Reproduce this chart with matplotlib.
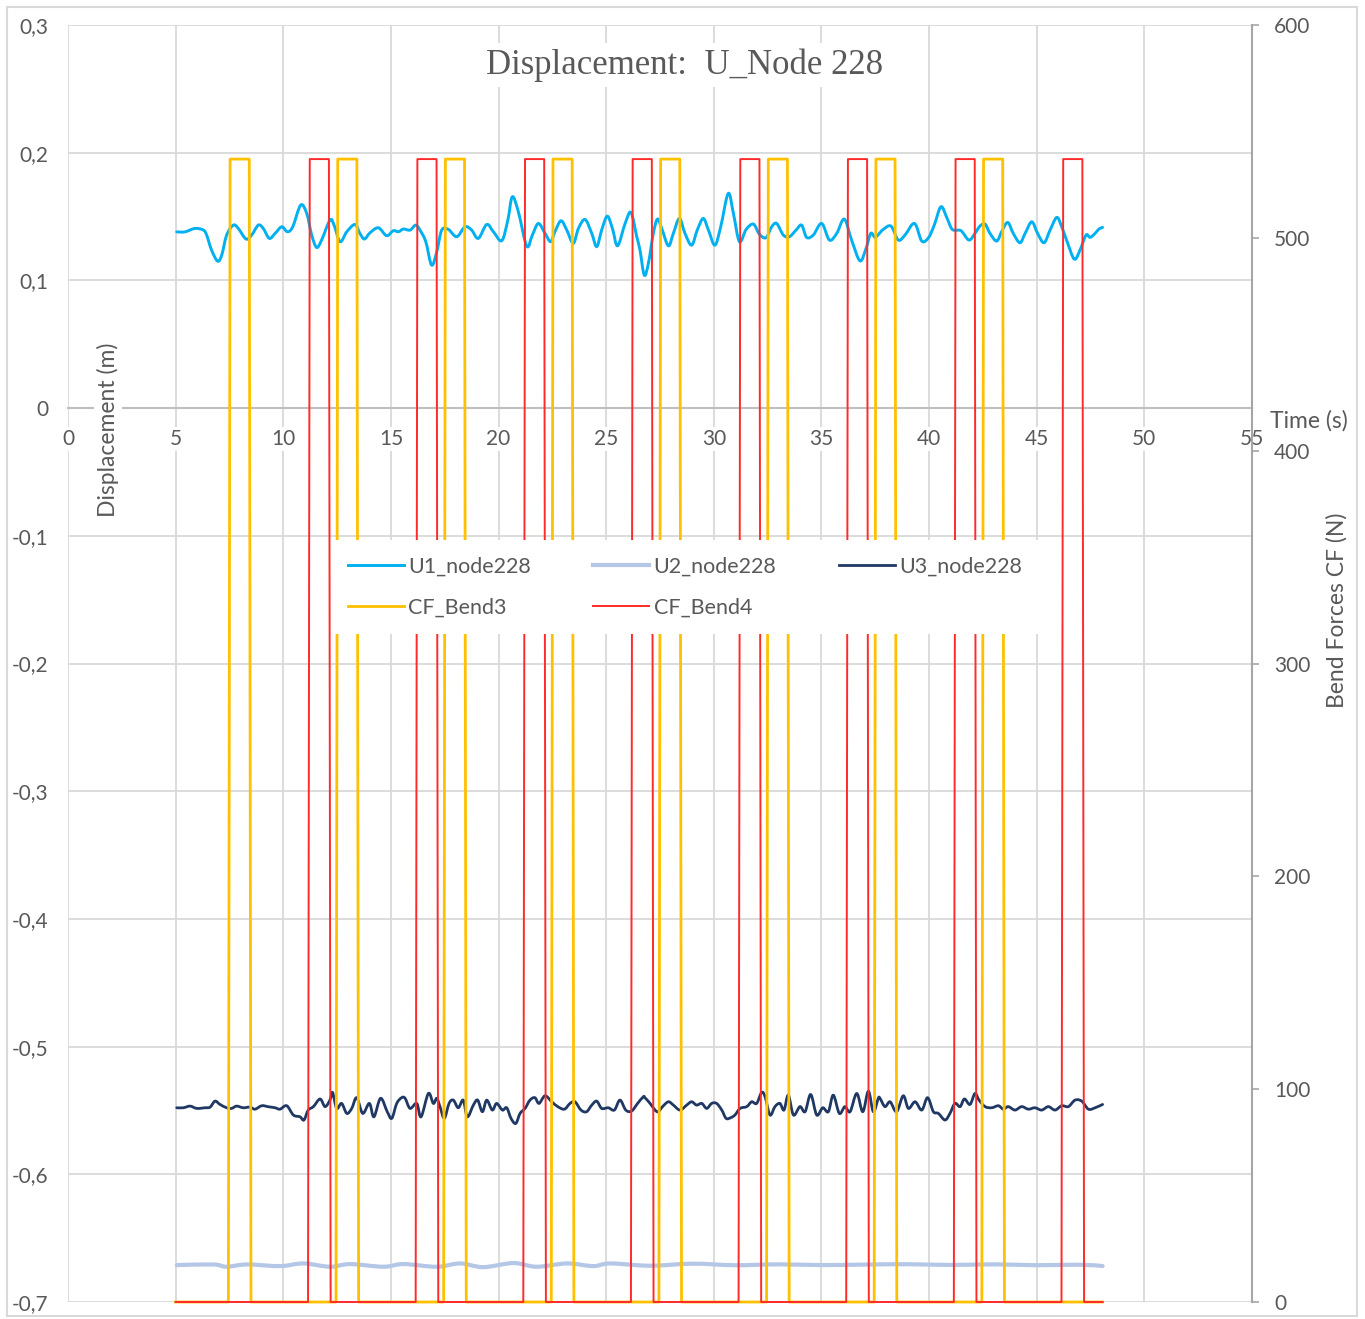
import matplotlib
matplotlib.use("Agg")
import matplotlib.pyplot as plt
from matplotlib.patches import Rectangle, PathPatch
from matplotlib.path import Path
from matplotlib.lines import Line2D
from matplotlib.ticker import FuncFormatter, MultipleLocator

# ---------------- data ----------------
u1_time = [5.05, 5.43, 5.90, 6.29, 6.44, 6.67, 6.95, 7.14, 7.37, 7.68, 7.91, 8.27, 8.53, 8.84,
           9.07, 9.35, 9.62, 9.93, 10.19, 10.44, 10.81, 11.09, 11.32, 11.55, 11.78, 12.17,
           12.36, 12.64, 12.95, 13.33, 13.56, 13.77, 14.03, 14.42, 14.80, 15.11, 15.35, 15.58,
           15.89, 16.15, 16.35, 16.62, 16.89, 17.13, 17.36, 17.67, 18.06, 18.44, 18.75, 19.06,
           19.45, 19.76, 20.15, 20.43, 20.64, 20.92, 21.31, 21.57, 21.85, 22.16, 22.42, 22.62,
           22.90, 23.17, 23.47, 23.71, 24.02, 24.33, 24.56, 24.79, 25.05, 25.29, 25.53, 25.88,
           26.15, 26.42, 26.57, 26.77, 26.96, 27.19, 27.38, 27.58, 27.89, 28.12, 28.40, 28.66,
           28.97, 29.23, 29.51, 29.75, 30.05, 30.32, 30.67, 30.91, 31.19, 31.50, 31.84, 32.11,
           32.42, 32.69, 32.92, 33.23, 33.51, 33.82, 34.08, 34.31, 34.62, 35.01, 35.37, 35.71,
           36.06, 36.40, 36.79, 37.07, 37.29, 37.49, 37.69, 37.87, 38.23, 38.57, 38.88, 39.32,
           39.66, 39.97, 40.24, 40.55, 40.82, 41.08, 41.48, 41.85, 42.13, 42.36, 42.60, 42.83,
           43.14, 43.37, 43.65, 43.91, 44.22, 44.46, 44.77, 45.04, 45.34, 45.62, 45.93, 46.16,
           46.44, 46.75, 47.01, 47.29, 47.48, 47.71, 47.89, 48.06]
u1_disp = [0.1380, 0.1380, 0.1407, 0.1394, 0.1355, 0.1237, 0.1151, 0.1198, 0.1355, 0.1433,
           0.1407, 0.1324, 0.1355, 0.1433, 0.1407, 0.1329, 0.1368, 0.1420, 0.1381, 0.1420,
           0.1590, 0.1524, 0.1355, 0.1258, 0.1316, 0.1472, 0.1433, 0.1303, 0.1381, 0.1438,
           0.1368, 0.1324, 0.1373, 0.1412, 0.1350, 0.1389, 0.1381, 0.1402, 0.1394, 0.1433,
           0.1394, 0.1303, 0.1120, 0.1224, 0.1394, 0.1399, 0.1342, 0.1420, 0.1394, 0.1329,
           0.1438, 0.1381, 0.1311, 0.1472, 0.1655, 0.1537, 0.1268, 0.1355, 0.1446, 0.1368,
           0.1303, 0.1381, 0.1467, 0.1394, 0.1290, 0.1407, 0.1477, 0.1368, 0.1264, 0.1394,
           0.1503, 0.1407, 0.1271, 0.1446, 0.1532, 0.1342, 0.1237, 0.1041, 0.1133, 0.1368,
           0.1480, 0.1407, 0.1271, 0.1368, 0.1485, 0.1368, 0.1276, 0.1394, 0.1485, 0.1394,
           0.1276, 0.1420, 0.1681, 0.1524, 0.1303, 0.1399, 0.1441, 0.1363, 0.1334, 0.1420,
           0.1446, 0.1355, 0.1342, 0.1394, 0.1433, 0.1337, 0.1355, 0.1446, 0.1316, 0.1368,
           0.1480, 0.1316, 0.1153, 0.1250, 0.1368, 0.1337, 0.1368, 0.1399, 0.1425, 0.1316,
           0.1355, 0.1446, 0.1308, 0.1334, 0.1433, 0.1577, 0.1493, 0.1399, 0.1389, 0.1316,
           0.1368, 0.1425, 0.1441, 0.1368, 0.1308, 0.1381, 0.1454, 0.1368, 0.1295, 0.1368,
           0.1459, 0.1368, 0.1295, 0.1394, 0.1493, 0.1420, 0.1290, 0.1166, 0.1237, 0.1355,
           0.1337, 0.1368, 0.1402, 0.1415]

u2_time = [5.05, 6.75, 7.37, 8.30, 9.85, 10.93, 12.17, 13.10, 14.65, 15.58, 17.13, 18.21,
           19.29, 20.69, 21.77, 23.17, 24.40, 25.18, 27.03, 29.0, 31.0, 33.0, 35.0, 37.0,
           39.0, 41.0, 43.0, 45.0, 47.0, 48.06]
u2_disp = [-0.6711, -0.6706, -0.6724, -0.6706, -0.6719, -0.6698, -0.6724, -0.6703, -0.6724,
           -0.6703, -0.6724, -0.6698, -0.6727, -0.6695, -0.6724, -0.6698, -0.6719, -0.6698,
           -0.6716, -0.6700, -0.6712, -0.6705, -0.6711, -0.6707, -0.6704, -0.6710, -0.6705,
           -0.6712, -0.6708, -0.6718]

u3_time = [5.05, 5.36, 5.67, 5.98, 6.36, 6.60, 6.83, 7.06, 7.37, 7.60, 7.83, 8.14, 8.45, 8.69,
           9.00, 9.31, 9.62, 9.85, 10.16, 10.47, 10.78, 10.96, 11.16, 11.40, 11.71, 11.94,
           12.17, 12.29, 12.48, 12.71, 12.95, 13.18, 13.41, 13.69, 14.00, 14.21, 14.52, 14.83,
           15.04, 15.27, 15.50, 15.66, 15.89, 16.20, 16.40, 16.74, 16.97, 17.13, 17.28, 17.48,
           17.70, 17.90, 18.13, 18.36, 18.55, 18.83, 19.03, 19.25, 19.45, 19.71, 19.91, 20.18,
           20.38, 20.58, 20.80, 21.00, 21.23, 21.46, 21.69, 21.88, 22.16, 22.47, 22.75, 23.06,
           23.32, 23.55, 23.83, 24.09, 24.33, 24.56, 24.79, 25.10, 25.38, 25.64, 25.91, 26.18,
           26.46, 26.73, 26.80, 27.04, 27.27, 27.42, 27.62, 27.89, 28.12, 28.43, 28.74, 28.97,
           29.20, 29.44, 29.67, 29.90, 30.13, 30.37, 30.57, 30.78, 30.98, 31.22, 31.53, 31.76,
           31.99, 32.22, 32.38, 32.61, 32.84, 33.07, 33.26, 33.46, 33.70, 34.00, 34.24, 34.50,
           34.78, 35.06, 35.32, 35.55, 35.83, 36.09, 36.33, 36.64, 36.92, 37.18, 37.41, 37.64,
           37.72, 37.95, 38.19, 38.49, 38.80, 39.04, 39.35, 39.66, 39.93, 40.20, 40.43, 40.74,
           40.97, 41.20, 41.44, 41.64, 41.90, 42.13, 42.32, 42.60, 42.91, 43.22, 43.45, 43.68,
           43.99, 44.30, 44.61, 44.92, 45.23, 45.54, 45.85, 46.16, 46.47, 46.78, 47.09, 47.40,
           47.71, 48.06]
u3_disp = [-0.5479, -0.5479, -0.5466, -0.5484, -0.5479, -0.5474, -0.5427, -0.5453, -0.5479,
           -0.5484, -0.5466, -0.5479, -0.5474, -0.5490, -0.5463, -0.5471, -0.5479, -0.5490,
           -0.5463, -0.5536, -0.5550, -0.5575, -0.5497, -0.5470, -0.5410, -0.5470, -0.5418,
           -0.5359, -0.5484, -0.5445, -0.5523, -0.5484, -0.5400, -0.5523, -0.5445, -0.5550,
           -0.5405, -0.5510, -0.5562, -0.5445, -0.5400, -0.5405, -0.5484, -0.5445, -0.5550,
           -0.5367, -0.5445, -0.5405, -0.5470, -0.5562, -0.5445, -0.5419, -0.5479, -0.5419,
           -0.5550, -0.5458, -0.5419, -0.5510, -0.5419, -0.5497, -0.5445, -0.5497, -0.5479,
           -0.5562, -0.5602, -0.5523, -0.5484, -0.5419, -0.5400, -0.5445, -0.5385, -0.5432,
           -0.5470, -0.5490, -0.5445, -0.5432, -0.5497, -0.5510, -0.5458, -0.5427, -0.5484,
           -0.5479, -0.5497, -0.5419, -0.5497, -0.5505, -0.5445, -0.5392, -0.5400, -0.5445,
           -0.5497, -0.5510, -0.5470, -0.5432, -0.5458, -0.5497, -0.5458, -0.5432, -0.5458,
           -0.5445, -0.5484, -0.5445, -0.5445, -0.5497, -0.5562, -0.5557, -0.5536, -0.5484,
           -0.5470, -0.5432, -0.5445, -0.5359, -0.5392, -0.5536, -0.5470, -0.5445, -0.5497,
           -0.5380, -0.5536, -0.5470, -0.5510, -0.5375, -0.5536, -0.5479, -0.5510, -0.5380,
           -0.5523, -0.5470, -0.5510, -0.5367, -0.5510, -0.5349, -0.5510, -0.5405, -0.5405,
           -0.5470, -0.5432, -0.5510, -0.5385, -0.5484, -0.5432, -0.5497, -0.5400, -0.5510,
           -0.5523, -0.5575, -0.5523, -0.5445, -0.5470, -0.5410, -0.5453, -0.5367, -0.5419,
           -0.5470, -0.5479, -0.5463, -0.5490, -0.5470, -0.5497, -0.5470, -0.5490, -0.5479,
           -0.5497, -0.5470, -0.5497, -0.5463, -0.5470, -0.5419, -0.5427, -0.5490, -0.5479,
           -0.5453]

# bend force pulses (on / off instants in s, plateau force in N)
bend3_on = [7.45, 12.45, 17.45, 22.45, 27.45, 32.45, 37.45, 42.45]
bend3_off = [8.50, 13.50, 18.50, 23.50, 28.50, 33.50, 38.50, 43.50]
bend4_on = [11.15, 16.15, 21.15, 26.15, 31.15, 36.15, 41.15, 46.15]
bend4_off = [12.20, 17.20, 22.20, 27.20, 32.20, 37.20, 42.20, 47.20]
bend_level = 537
bend_ramp = 0.08
series_start, series_end = 5.0, 48.06

x_ticks = list(range(0, 56, 5))


def pulse_train(on_times, off_times):
    t, f = [series_start], [0]
    for on, off in zip(on_times, off_times):
        t += [on, on + bend_ramp, off - bend_ramp, off]
        f += [0, bend_level, bend_level, 0]
    t.append(series_end)
    f.append(0)
    return t, f


def smoothed_path(x, y):
    """Smoothed-line rendering: cubic Bezier segments through every sample."""
    verts = [(x[0], y[0])]
    codes = [Path.MOVETO]
    n = len(x)
    for i in range(n - 1):
        x0, y0 = (x[i - 1], y[i - 1]) if i > 0 else (x[i], y[i])
        x3, y3 = (x[i + 2], y[i + 2]) if i + 2 < n else (x[i + 1], y[i + 1])
        c1 = (x[i] + (x[i + 1] - x0) / 6, y[i] + (y[i + 1] - y0) / 6)
        c2 = (x[i + 1] - (x3 - x[i]) / 6, y[i + 1] - (y3 - y[i]) / 6)
        verts += [c1, c2, (x[i + 1], y[i + 1])]
        codes += [Path.CURVE4] * 3
    return Path(verts, codes)


# ---------------- figure ----------------
W, H = 1365, 1319
fig = plt.figure(figsize=(W / 100, H / 100), dpi=100)
fig.patch.set_facecolor("white")

label_font = "Lato"
grey_txt = "#595959"
grid_c = "#D9D9D9"
tick_fs = 15
cap_fs = 16.5

ax = fig.add_axes([68 / W, 1 - 1302 / H, (1252 - 68) / W, (1302 - 25) / H])
ax.set_xlim(0, 55)
ax.set_ylim(-0.7, 0.3)
ax.set_xticks(x_ticks)
ax.yaxis.set_major_locator(MultipleLocator(0.1))
ax.grid(True, color=grid_c, lw=1.3, zorder=0)
ax.set_axisbelow(True)
for s in ("top", "left", "right"):
    ax.spines[s].set_visible(False)
ax.spines["bottom"].set_position(("data", 0))
ax.spines["bottom"].set_color("#BFBFBF")
ax.spines["bottom"].set_linewidth(1.5)


def comma_fmt(v, _):
    v = round(v, 1)
    if abs(v) < 1e-9:
        return "0"
    return f"{v:.1f}".replace(".", ",")


ax.yaxis.set_major_formatter(FuncFormatter(comma_fmt))
ax.tick_params(axis="y", length=0, pad=14, labelsize=tick_fs, labelcolor=grey_txt)
ax.tick_params(axis="x", length=0, pad=15, labelsize=tick_fs, labelcolor=grey_txt)
for lbl in ax.get_xticklabels() + ax.get_yticklabels():
    lbl.set_fontfamily(label_font)
for lbl in ax.get_xticklabels():
    lbl.set_bbox(dict(facecolor="white", edgecolor="none", pad=1.5))

styles = {
    "U1_node228": dict(color="#00B0F0", lw=2.1),
    "U2_node228": dict(color="#B4C7E7", lw=3.0),
    "U3_node228": dict(color="#1F3864", lw=2.0),
}
for (name, st), (tx, dy) in zip(styles.items(),
                                [(u1_time, u1_disp), (u2_time, u2_disp), (u3_time, u3_disp)]):
    ax.add_patch(PathPatch(smoothed_path(tx, dy), facecolor="none", edgecolor=st["color"],
                           lw=st["lw"], zorder=3, capstyle="round", joinstyle="round"))
h_u1 = Line2D([], [], label="U1_node228", **styles["U1_node228"])
h_u2 = Line2D([], [], label="U2_node228", **styles["U2_node228"])
h_u3 = Line2D([], [], label="U3_node228", **styles["U3_node228"])

ax2 = ax.twinx()
ax2.set_ylim(0, 600)
ax2.yaxis.set_major_locator(MultipleLocator(100))
for s in ("top", "left", "bottom"):
    ax2.spines[s].set_visible(False)
ax2.spines["right"].set_color("#A6A6A6")
ax2.spines["right"].set_linewidth(1.5)
ax2.tick_params(axis="y", direction="out", length=5, width=1.2, color="#A6A6A6",
                pad=11, labelsize=tick_fs, labelcolor=grey_txt)
for lbl in ax2.get_yticklabels():
    lbl.set_fontfamily(label_font)

t3, f3 = pulse_train(bend3_on, bend3_off)
t4, f4 = pulse_train(bend4_on, bend4_off)
h_b3, = ax2.plot(t3, f3, color="#FFC000", lw=2.0, label="CF_Bend3", zorder=2, clip_on=False)
h_b4, = ax2.plot(t4, f4, color="#FF2A2A", lw=1.4, label="CF_Bend4", zorder=2, clip_on=False)

leg = ax2.legend(handles=[h_u1, h_b3, h_u2, h_b4, h_u3], ncol=3, loc="center",
                 bbox_to_anchor=(685 / W, 1 - 587 / H), bbox_transform=fig.transFigure,
                 frameon=True, fancybox=False, framealpha=1, facecolor="white",
                 edgecolor="none", handlelength=2.6, handletextpad=0.2,
                 columnspacing=2.9, labelspacing=1.0, borderpad=0.75,
                 prop={"family": label_font, "size": 15.5})
for txt in leg.get_texts():
    txt.set_color(grey_txt)
leg.set_zorder(10)

# titles and axis captions
fig.text(685 / W, 1 - 65 / H, "Displacement:  U_Node 228", ha="center", va="center",
         fontsize=25, family="Liberation Serif", color=grey_txt,
         bbox=dict(facecolor="white", edgecolor="none", pad=4))
fig.text(108 / W, 1 - 430 / H, "Displacement (m)", rotation=90, ha="center", va="center",
         fontsize=cap_fs, family=label_font, color=grey_txt,
         bbox=dict(facecolor="white", edgecolor="none", pad=2))
fig.text(1309 / W, 1 - 421 / H, "Time (s)", ha="center", va="center",
         fontsize=cap_fs, family=label_font, color=grey_txt)
fig.text(1337 / W, 1 - 610 / H, "Bend Forces CF (N)", rotation=90, ha="center", va="center",
         fontsize=cap_fs, family=label_font, color=grey_txt)

# outer chart frame
fig.patches.append(Rectangle((7 / W, 1 - 1316 / H), (1357 - 7) / W, (1316 - 7) / H,
                             transform=fig.transFigure, fill=False,
                             edgecolor="#D9D9D9", lw=1.5))

fig.savefig("out.png", dpi=100)
